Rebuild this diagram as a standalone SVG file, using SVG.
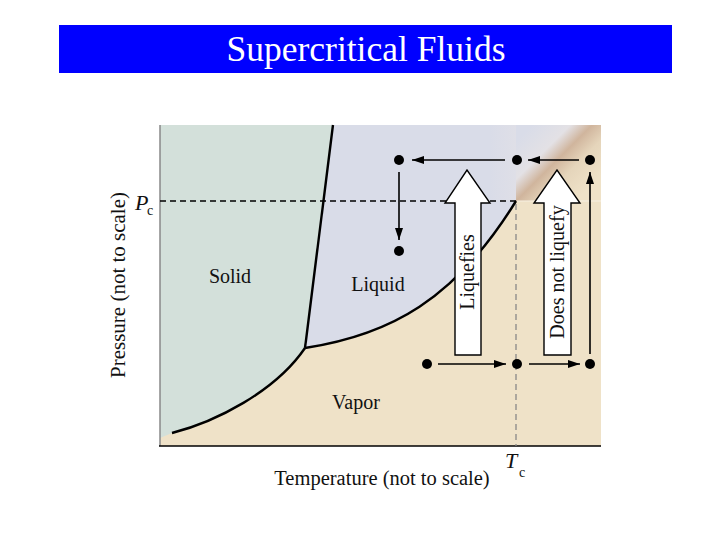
<svg xmlns="http://www.w3.org/2000/svg" width="720" height="540" viewBox="0 0 720 540">
<defs>
<style>
.t{font-family:"Liberation Serif","Times New Roman",serif;fill:#111}
.curve{fill:none;stroke:#000;stroke-width:2.4;stroke-linejoin:round}
.arr{stroke:#000;stroke-width:1.6;fill:none}
.dot{fill:#000}
.block{fill:#fff;stroke:#000;stroke-width:1.4;stroke-linejoin:miter}
</style>
<marker id="ah" viewBox="0 0 12 8" refX="12" refY="4" markerWidth="12" markerHeight="8" markerUnits="userSpaceOnUse" orient="auto">
<path d="M0,0 L12,4 L0,8 Z" fill="#000"/>
</marker>
<linearGradient id="sc" gradientUnits="userSpaceOnUse" x1="530" y1="127" x2="590" y2="187">
<stop offset="0" stop-color="#d9dce8"/>
<stop offset="0.32" stop-color="#e3e1e5"/>
<stop offset="0.5" stop-color="#d0b59d"/>
<stop offset="0.7" stop-color="#e5d5bb"/>
<stop offset="1" stop-color="#efe2c8"/>
</linearGradient>
<linearGradient id="fade" x1="0" y1="0" x2="1" y2="0">
<stop offset="0" stop-color="#d9dce8"/>
<stop offset="1" stop-color="#dfdfe7"/>
</linearGradient>
</defs>
<rect width="720" height="540" fill="#fff"/>
<g id="title">
<rect x="59" y="25" width="613" height="48" fill="#0000ff"/>
<text class="t" x="366" y="61" font-size="35.5" text-anchor="middle" style="fill:#fff">Supercritical Fluids</text>
</g>
<g id="regions">
<rect x="160" y="125" width="441" height="321" fill="#efe2c8"/>
<path d="M333,125 L305,348 C390,335 455,300 516,201 L601,201 L601,125 Z" fill="#d9dce8"/>
<rect x="490" y="125" width="26" height="76" fill="url(#fade)"/>
<rect x="516" y="125" width="85" height="76" fill="url(#sc)"/>
<path d="M160,125 L333,125 L305,348 C275,392 215,422 172,433 L160,438 Z" fill="#d3e0da"/>
<line x1="517" y1="201" x2="601" y2="201" stroke="#f7f0e2" stroke-width="1"/>
</g>
<g id="axes">
<line x1="160" y1="125" x2="160" y2="446" stroke="#888" stroke-width="1.5"/>
<line x1="159" y1="446" x2="601" y2="446" stroke="#000" stroke-width="1.5"/>
<line x1="160" y1="201" x2="516" y2="201" stroke="#000" stroke-width="1.3" stroke-dasharray="6,4"/>
<line x1="516" y1="204" x2="516" y2="446" stroke="#888" stroke-width="1.3" stroke-dasharray="6,4"/>
</g>
<g id="phase-curves">
<path class="curve" d="M333,125 L305,348"/>
<path class="curve" d="M172,433 C215,422 275,392 305,348"/>
<path class="curve" d="M305,348 C390,335 455,300 516,201"/>
</g>
<g id="block-arrows">
<path class="block" d="M455,355 L455,203 L445,203 L467,170 L490,203 L481,203 L481,355 Z"/>
<path class="block" d="M544,355 L544,203 L534,203 L557,170 L580,203 L571,203 L571,355 Z"/>
<text class="t" font-size="20" text-anchor="middle" transform="translate(474,272) rotate(-90)">Liquefies</text>
<text class="t" font-size="20" text-anchor="middle" transform="translate(564,272) rotate(-90)">Does not liquefy</text>
</g>
<g id="connectors">
<line class="arr" x1="505" y1="160" x2="412" y2="160" marker-end="url(#ah)"/>
<line class="arr" x1="579" y1="160" x2="528" y2="160" marker-end="url(#ah)"/>
<line class="arr" x1="399" y1="172" x2="399" y2="240" marker-end="url(#ah)"/>
<line class="arr" x1="438" y1="364" x2="506" y2="364" marker-end="url(#ah)"/>
<line class="arr" x1="529" y1="364" x2="580" y2="364" marker-end="url(#ah)"/>
<line class="arr" x1="590" y1="354" x2="590" y2="172" marker-end="url(#ah)"/>
</g>
<g id="points">
<circle class="dot" cx="399" cy="160" r="5"/>
<circle class="dot" cx="517" cy="160" r="5"/>
<circle class="dot" cx="590" cy="160" r="5"/>
<circle class="dot" cx="399" cy="251" r="5"/>
<circle class="dot" cx="427" cy="364" r="5"/>
<circle class="dot" cx="517" cy="364" r="5"/>
<circle class="dot" cx="590" cy="364" r="5"/>
</g>
<g id="labels">
<text class="t" x="230" y="283" font-size="20" text-anchor="middle">Solid</text>
<text class="t" x="378" y="291" font-size="20" text-anchor="middle">Liquid</text>
<text class="t" x="356" y="409" font-size="20" text-anchor="middle">Vapor</text>
<text class="t" x="382" y="485" font-size="20.5" text-anchor="middle">Temperature (not to scale)</text>
<text class="t" font-size="21" text-anchor="middle" transform="translate(125,285) rotate(-90)">Pressure (not to scale)</text>
<text class="t" x="135" y="210" font-size="22" font-style="italic">P</text>
<text class="t" x="147" y="215" font-size="14">c</text>
<text class="t" x="505" y="468" font-size="22" font-style="italic">T</text>
<text class="t" x="519" y="477" font-size="14">c</text>
</g>
</svg>
